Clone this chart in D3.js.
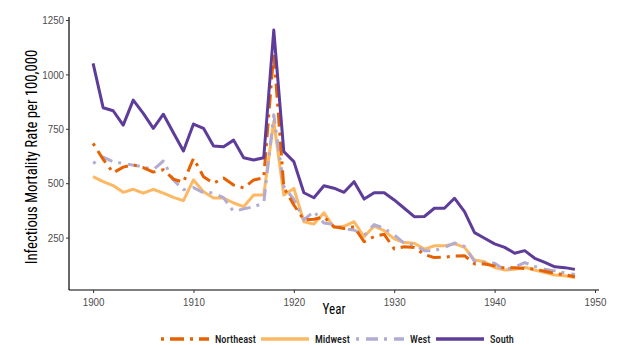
<!DOCTYPE html>
<html>
<head>
<meta charset="utf-8">
<script src="https://cdn.jsdelivr.net/npm/d3@7"></script>
<style>
  body { margin: 0; background: #fff; }
  svg { font-family: 'Roboto Condensed', 'Liberation Sans Narrow', Roboto, sans-serif; }
</style>
</head>
<body>
<div class="chart"></div>
<script>
const years = d3.range(1900, 1949)

const northeast = [683, 610, 548, 574, 584, 572, 551, 562, 519, 504,
  614, 530, 500, 524, 492, 478, 515, 525, 1100, 480,
  400, 331, 334, 345, 300, 292, 300, 231, 255, 265,
  198, 208, 205, 172, 158, 160, 165, 167, 129, 129,
  120, 110, 112, 108, 105, 95, 85, 80, 70]
const midwest = [530, 507, 489, 458, 472, 454, 472, 454, 435, 420,
  515, 461, 432, 432, 409, 392, 446, 446, 785, 446,
  476, 323, 312, 364, 297, 302, 323, 254, 303, 282,
  244, 227, 224, 197, 212, 212, 222, 205, 147, 139,
  112, 101, 104, 114, 101, 89, 78, 75, 66]
const west = [591, 620, 598, 591, 583, 575, 562, 602, 515, 470,
  480, 456, 456, 433, 370, 382, 392, 408, 815, 485,
  425, 331, 370, 317, 310, 290, 285, 260, 310, 292,
  262, 224, 216, 190, 190, 205, 225, 210, 140, 135,
  132, 101, 115, 135, 118, 105, 97, 88, 80]
const south = [1051, 847, 833, 767, 882, 821, 752, 817, 732, 648,
  772, 752, 671, 668, 698, 617, 607, 617, 1204, 645,
  599, 456, 433, 488, 477, 458, 507, 427, 456, 456,
  423, 385, 346, 347, 385, 385, 431, 369, 273, 247,
  221, 205, 178, 190, 155, 136, 116, 112, 104]

const xTicks = [1900, 1910, 1920, 1930, 1940, 1950]
const yTicks = [250, 500, 750, 1000, 1250]

const series = [
  { name: 'Northeast', values: northeast, color: '#e66101', dash: '3,6,14,6' },
  { name: 'Midwest', values: midwest, color: '#fdb863', dash: null },
  { name: 'West', values: west, color: '#b2abd2', dash: '3,7,12,6' },
  { name: 'South', values: south, color: '#5e3c99', dash: null }
]

const width = 630
const height = 345
const squeeze = 0.85 // fake a condensed face

const svg = d3.select('.chart').append('svg')
  .attr('width', width)
  .attr('height', height)

const x = d3.scaleLinear().domain([1897.6, 1950.4]).range([69, 599])
const y = d3.scaleLinear().domain([9.2, 1263.8]).range([290, 17])

// axes
const xAxis = svg.append('g')
  .attr('transform', 'translate(0,290)')
  .call(d3.axisBottom(x).tickValues(xTicks).tickFormat(d3.format('d')).tickSize(3).tickSizeOuter(0))
const yAxis = svg.append('g')
  .attr('transform', 'translate(69,0)')
  .call(d3.axisLeft(y).tickValues(yTicks).tickFormat(d3.format('d')).tickSize(3).tickSizeOuter(0))

svg.selectAll('.domain').attr('stroke', '#000').attr('stroke-width', 1.2)
svg.selectAll('.tick line').attr('stroke', '#333')
svg.selectAll('.tick text').attr('fill', '#4d4d4d').style('font-size', '11.5px')
xAxis.selectAll('.tick text')
  .attr('dy', '0.9em')
  .attr('transform', 'scale(' + squeeze + ',1)')
yAxis.selectAll('.tick text')
  .attr('x', 0)
  .attr('transform', 'translate(-5,0) scale(' + squeeze + ',1)')

xAxis.select('.domain').attr('d', 'M69,0H599')
yAxis.select('.domain').attr('d', 'M0,17V290')

svg.append('text')
  .attr('transform', 'translate(334,314) scale(0.9,1)')
  .attr('text-anchor', 'middle')
  .style('font-size', '14.5px')
  .text('Year')

svg.append('text')
  .attr('transform', 'translate(37,157) rotate(-90) scale(0.92,1)')
  .attr('text-anchor', 'middle')
  .style('font-size', '16px')
  .text('Infectious Mortality Rate per 100,000')

const line = d3.line()
  .x((d, i) => x(years[i]))
  .y(d => y(d))

// draw order so South sits on top
const order = ['Midwest', 'West', 'Northeast', 'South']
order.forEach(n => {
  const s = series.find(d => d.name === n)
  svg.append('path')
    .datum(s.values)
    .attr('fill', 'none')
    .attr('stroke', s.color)
    .attr('stroke-width', 3)
    .attr('stroke-linejoin', 'round')
    .attr('stroke-dasharray', s.dash)
    .attr('d', line)
})

// legend
const legendX = [161, 261, 356, 436]
const legend = svg.append('g').attr('transform', 'translate(0,339)')
series.forEach((s, i) => {
  legend.append('line')
    .attr('x1', legendX[i]).attr('x2', legendX[i] + 48)
    .attr('y1', 0).attr('y2', 0)
    .attr('stroke', s.color)
    .attr('stroke-width', 3.5)
    .attr('stroke-dasharray', s.dash)
  legend.append('text')
    .attr('transform', 'translate(' + (legendX[i] + 54) + ',4) scale(0.9,1)')
    .style('font-size', '11.5px')
    .style('font-weight', 500)
    .attr('fill', '#1a1a1a')
    .text(s.name)
})
</script>
</body>
</html>
